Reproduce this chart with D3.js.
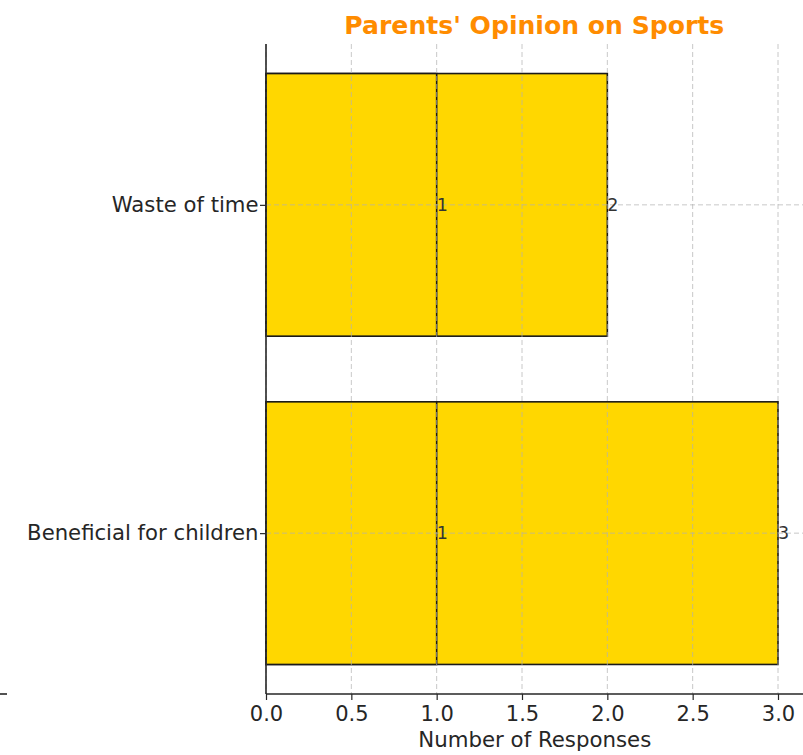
<!DOCTYPE html>
<html>
<head>
<meta charset="utf-8">
<script src="https://cdn.jsdelivr.net/npm/d3@7"></script>
<style>
  html, body { margin: 0; padding: 0; background: #fff; }
  svg { display: block; }
  text { font-family: "DejaVu Sans", sans-serif; }
</style>
</head>
<body>
<svg id="chart" width="803" height="755"></svg>
<script>
// Survey answers, bottom category first
const categories = ["Beneficial for children", "Waste of time"];
const firstResponses = [1, 1];
const totalResponses = [3, 2];
const xTickValues = [0, 0.5, 1.0, 1.5, 2.0, 2.5, 3.0];

const W = 803, H = 755;
const plot = { left: 266, right: 803.6, top: 44, bottom: 694 };
const barHeight = 0.8;

const svg = d3.select("#chart");

const x = d3.scaleLinear().domain([0, 3.15]).range([plot.left, plot.right]);
const y = d3.scaleLinear().domain([-0.49, 1.49]).range([plot.bottom, plot.top]);

const idx = categories.map((_, i) => i);

// Wider bars first so the narrower ones sit on top with their edges visible
const layers = [totalResponses, firstResponses];
layers.forEach(values => {
  svg.append("g").selectAll("rect")
    .data(idx)
    .join("rect")
    .attr("x", x(0))
    .attr("y", i => y(i + barHeight / 2))
    .attr("width", i => x(values[i]) - x(0))
    .attr("height", i => y(i - barHeight / 2) - y(i + barHeight / 2))
    .attr("fill", "#FFD700")
    .attr("stroke", "#1a1a1a")
    .attr("stroke-width", 1.6);
});

// Dashed grid drawn over the bars
const grid = svg.append("g")
  .attr("stroke", "#b0b0b0")
  .attr("stroke-opacity", 0.7)
  .attr("stroke-width", 1)
  .attr("stroke-dasharray", "5,3");
grid.selectAll("line.v")
  .data(xTickValues)
  .join("line")
  .attr("class", "v")
  .attr("x1", d => x(d)).attr("x2", d => x(d))
  .attr("y1", plot.top).attr("y2", plot.bottom);
grid.selectAll("line.h")
  .data(idx)
  .join("line")
  .attr("class", "h")
  .attr("x1", plot.left).attr("x2", W)
  .attr("y1", i => y(i)).attr("y2", i => y(i));

// Value labels at the end of each bar
layers.forEach(values => {
  svg.append("g").selectAll("text")
    .data(idx)
    .join("text")
    .attr("x", i => x(values[i]))
    .attr("y", i => y(i))
    .attr("dy", "0.36em")
    .attr("font-size", 17.5)
    .attr("fill", "#333")
    .text(i => values[i]);
});

// Axes
const xAxis = d3.axisBottom(x)
  .tickValues(xTickValues)
  .tickFormat(d3.format(".1f"))
  .tickSize(6)
  .tickPadding(6);
const gx = svg.append("g")
  .attr("transform", `translate(0,${plot.bottom})`)
  .call(xAxis);
gx.select(".domain").remove();
gx.append("line")
  .attr("x1", plot.left).attr("x2", W)
  .attr("y1", 0).attr("y2", 0)
  .attr("stroke", "#262626").attr("stroke-width", 1.6);
gx.selectAll(".tick line").attr("stroke", "#262626").attr("stroke-width", 1.2);
gx.selectAll(".tick text")
  .attr("font-family", "DejaVu Sans")
  .attr("font-size", 21)
  .attr("fill", "#262626");

const yAxis = d3.axisLeft(y)
  .tickValues(idx)
  .tickFormat(i => categories[i])
  .tickSize(6)
  .tickPadding(1.5);
const gy = svg.append("g")
  .attr("transform", `translate(${plot.left},0)`)
  .call(yAxis);
gy.select(".domain").remove();
gy.append("line")
  .attr("x1", 0).attr("x2", 0)
  .attr("y1", plot.top).attr("y2", plot.bottom)
  .attr("stroke", "#262626").attr("stroke-width", 1.6);
gy.selectAll(".tick line").attr("stroke", "#262626").attr("stroke-width", 1.2);
gy.selectAll(".tick text")
  .attr("font-family", "DejaVu Sans")
  .attr("font-size", 21.2)
  .attr("fill", "#262626");

// Axis title and chart title
svg.append("text")
  .attr("x", (plot.left + plot.right) / 2)
  .attr("y", 747)
  .attr("text-anchor", "middle")
  .attr("font-size", 21.3)
  .attr("fill", "#262626")
  .text("Number of Responses");

svg.append("text")
  .attr("x", (plot.left + plot.right) / 2 - 0.5)
  .attr("y", 33.5)
  .attr("text-anchor", "middle")
  .attr("font-size", 25.1)
  .attr("font-weight", "bold")
  .attr("fill", "#FF8C00")
  .text("Parents' Opinion on Sports");

// Edge of the neighbouring panel's axis
svg.append("line")
  .attr("x1", 0).attr("x2", 7)
  .attr("y1", plot.bottom).attr("y2", plot.bottom)
  .attr("stroke", "#262626").attr("stroke-width", 1.6);
</script>
</body>
</html>
